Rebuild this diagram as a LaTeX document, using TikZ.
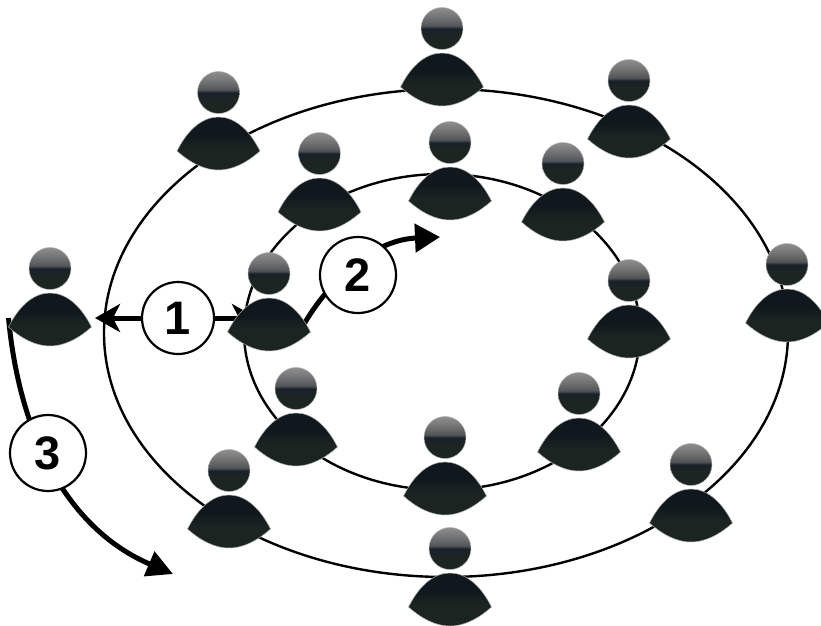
\documentclass[tikz,border=0pt]{standalone}
\usepackage{fontspec}
\setmainfont{Liberation Sans}
\usetikzlibrary{arrows.meta, shapes.geometric, backgrounds}

\definecolor{headtop}{HTML}{8E8E8E}
\definecolor{headupp}{HTML}{747474}
\definecolor{headdim}{HTML}{505458}
\definecolor{headmid}{HTML}{1A2229}
\definecolor{headlow}{HTML}{1C2522}
\definecolor{bodytop}{HTML}{10181E}
\definecolor{bodylow}{HTML}{1B2421}

\pgfdeclareverticalshading{headshade}{100bp}{color(0bp)=(headlow); color(25bp)=(headlow); color(42bp)=(headlow); color(48bp)=(headmid); color(50bp)=(headmid); color(53bp)=(headdim); color(64bp)=(headupp); color(75bp)=(headtop); color(100bp)=(headtop)}
\pgfdeclareverticalshading{bodyshade}{100bp}{color(0bp)=(bodylow); color(25bp)=(bodylow); color(46bp)=(bodylow); color(58bp)=(bodytop); color(75bp)=(bodytop); color(100bp)=(bodytop)}

\tikzset{
    ring/.style={draw, ellipse, line width=2.4pt, inner sep=0pt},
    numbered/.style={draw, circle, fill=white, line width=2.2pt, minimum size=#1, inner sep=0pt, font=\fontsize{47}{47}\selectfont\bfseries},
    thick arrow/.style={line width=5pt},
    person/.pic={
        \shadedraw[shading=headshade, draw=white!70!black, line width=0.5pt] (0,-58.5) circle (21);
        \shadedraw[shading=bodyshade, draw=white!70!black, line width=0.5pt] (-41.5,0)
            .. controls (-30,-23) and (-15,-34) .. (0,-34)
            .. controls (15,-34) and (30,-23) .. (41.5,0)
            .. controls (28,12) and (14,19) .. (0,19)
            .. controls (-14,19) and (-28,12) .. (-41.5,0) -- cycle;
        \coordinate (-left) at (-41.5,0);
        \coordinate (-mid) at (0,0);
        \coordinate (-right) at (41.5,0);
    }
}

\begin{document}
\begin{tikzpicture}[x=1pt, y=-1pt]
    \useasboundingbox (0,0) rectangle (821,625);

    \pic (pfar) at (50,327) {person};
    \pic (pnear) at (269,332) {person};
    \foreach \n/\x/\y in {o1/442/87, o2/218.5/151, o3/629/139, o4/787/323, o5/691/523, o6/450/607, o7/229/529,
                          i1/319.5/212, i2/450/201, i3/563/222, i4/629/339, i5/579/452, i6/445/496, i7/296/447}
        \pic (\n) at (\x,\y) {person};

    \node[numbered=72pt] (one) at (178,318) {1};
    \node[numbered=76pt] (two) at (358,275) {2};
    \node[numbered=76pt] (three) at (48,453) {3};

    \coordinate (end2) at (440,237);
    \coordinate (end3) at (173,574);

    % rings and arrows go behind the people
    \begin{scope}[on background layer]
        \node[ring, minimum width=684pt, minimum height=488pt] (outer) at (446,333) {};
        \node[ring, minimum width=396pt, minimum height=316pt] (inner) at (442,332) {};

        \draw[thick arrow, -{Stealth[length=25pt, width=28pt, inset=7pt]}, shorten >=3.5pt] (one) -- (pfar-right |- one);
        \draw[thick arrow, -{Stealth[length=25pt, width=28pt, inset=7pt]}, shorten >=12pt] (one) -- (pnear-mid |- one);
        \draw[thick arrow, -{Triangle[length=25pt, width=28pt]}] (pnear-right) ++(-11,0) .. controls (325,285) and (370,240) .. (end2);
        \draw[thick arrow, -{Triangle[length=26pt, width=26pt]}] (pfar-left) ++(0,-9) .. controls (20,440) and (70,530) .. (end3);
    \end{scope}
\end{tikzpicture}
\end{document}
